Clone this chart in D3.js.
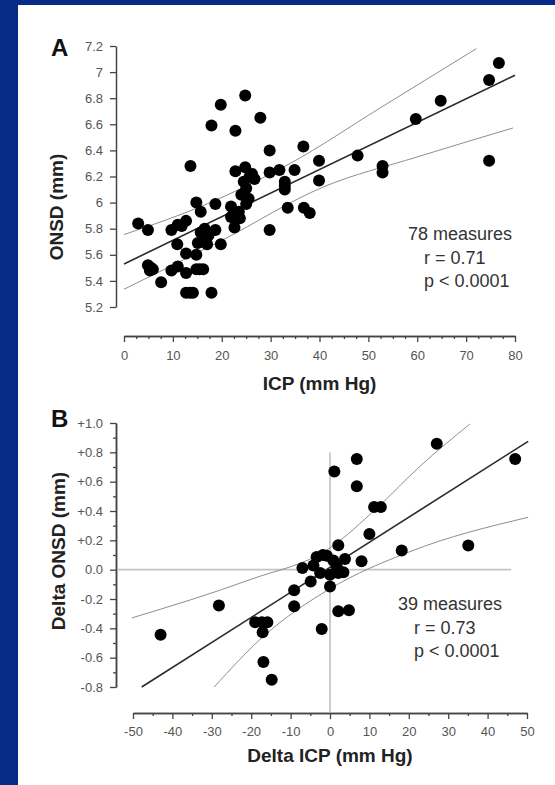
<!DOCTYPE html>
<html>
<head>
<meta charset="utf-8">
<script src="https://cdn.jsdelivr.net/npm/d3@7"></script>
<style>
  html, body { margin: 0; padding: 0; background: #ffffff; }
  svg { display: block; }
  text { font-family: "Liberation Sans", Arial, sans-serif; }
</style>
</head>
<body>
<svg id="chart" width="555" height="785"></svg>
<script>
(function (d3) {
  "use strict";

  // ---- panel A : ICP vs ONSD (78 measures) ----
  var icpA = [19.8, 24.8, 27.9, 17.9, 22.8, 29.8, 36.7, 13.6, 39.9, 39.9,
    22.8, 24.8, 25.7, 26.7, 29.8, 31.8, 34.9, 32.9, 32.9, 24.0,
    25.0, 25.0, 21.9, 33.5, 36.8, 38.0, 14.8, 15.7, 18.7, 21.9,
    23.7, 22.6, 29.8, 2.9, 4.9, 9.7, 11.0, 12.7, 10.9, 15.7,
    17.3, 18.7, 15.1, 16.8, 19.8, 12.7, 14.8, 4.9, 5.3, 5.9,
    9.7, 11.0, 12.7, 14.8, 16.2, 7.6, 12.7, 14.1, 17.9, 76.7,
    74.7, 64.8, 59.7, 47.8, 52.9, 52.9, 74.7, 24.5, 25.5, 23.5,
    16.5, 17.0, 13.5, 5.5, 15.5, 11.8, 32.9, 26.2];
  var onsdA = [6.75, 6.82, 6.65, 6.59, 6.55, 6.40, 6.43, 6.28, 6.32, 6.17,
    6.24, 6.27, 6.20, 6.18, 6.23, 6.25, 6.25, 6.16, 6.10, 6.06,
    6.11, 5.99, 5.97, 5.96, 5.96, 5.92, 6.00, 5.93, 5.99, 5.89,
    5.88, 5.81, 5.79, 5.84, 5.79, 5.79, 5.83, 5.86, 5.68, 5.77,
    5.75, 5.79, 5.69, 5.71, 5.68, 5.61, 5.60, 5.52, 5.48, 5.49,
    5.48, 5.51, 5.46, 5.49, 5.49, 5.39, 5.31, 5.31, 5.31, 7.07,
    6.94, 6.78, 6.64, 6.36, 6.28, 6.23, 6.32, 6.16, 6.03, 5.93,
    5.80, 5.68, 5.31, 5.50, 5.49, 5.82, 6.13, 6.22];

  // regression line and 95% band
  var fitA_x = [0, 80];
  var fitA_y = [5.53, 6.976];
  var upperA_x = [0, 17, 34, 52.4, 72.1];
  var upperA_y = [5.755, 5.99, 6.30, 6.725, 7.18];
  var lowerA_x = [0, 20, 40.8, 60, 79.6];
  var lowerA_y = [5.336, 5.71, 6.12, 6.35, 6.572];

  var xTicksA = [0, 10, 20, 30, 40, 50, 60, 70, 80];
  var xTickLabelsA = ["0", "10", "20", "30", "40", "50", "60", "70", "80"];
  var yTicksA = [5.2, 5.4, 5.6, 5.8, 6, 6.2, 6.4, 6.6, 6.8, 7, 7.2];
  var yTickLabelsA = ["5.2", "5.4", "5.6", "5.8", "6", "6.2", "6.4", "6.6", "6.8", "7", "7.2"];
  var statsA = ["78 measures", "r = 0.71", "p < 0.0001"];

  // ---- panel B : delta ICP vs delta ONSD (39 measures) ----
  var deltaIcpB = [6.8, 1.1, 6.8, 11.2, 12.9, 10.0, 18.2, 2.1, 3.8, 8.0,
    -3.4, -0.8, 0.85, -4.2, 1.7, -2.5, 0.0, 2.1, 3.4, -7.0,
    -4.9, 0.0, -9.1, -9.1, 2.1, 4.8, -2.1, -19.0, -17.3, -15.9,
    -17.1, -43.0, -28.2, -16.9, -14.8, 27.1, 47.0, 35.1, -1.8];
  var deltaOnsdB = [0.755, 0.67, 0.568, 0.427, 0.427, 0.243, 0.13, 0.166, 0.073, 0.057,
    0.087, 0.095, 0.063, 0.029, 0.022, -0.022, -0.034, -0.022, -0.018, 0.012,
    -0.08, -0.114, -0.141, -0.25, -0.284, -0.277, -0.404, -0.359, -0.359, -0.359,
    -0.427, -0.443, -0.245, -0.63, -0.75, 0.859, 0.755, 0.164, 0.10];

  var fitB_x = [-47.8, 50.3];
  var fitB_y = [-0.8, 0.875];
  var upperB_x = [-50.3, -20.3, 0, 11.9, 22.8, 35.5];
  var upperB_y = [-0.329, -0.068, 0.148, 0.42, 0.704, 0.993];
  var lowerB_x = [-29.4, -16.9, 0, 20, 50.3];
  var lowerB_y = [-0.8, -0.455, -0.13, 0.12, 0.357];
  var zeroLineB_x = [-54, 46];
  var zeroLineB_y = [-0.975, 0.8];

  var xTicksB = [-50, -40, -30, -20, -10, 0, 10, 20, 30, 40, 50];
  var xTickLabelsB = ["-50", "-40", "-30", "-20", "-10", "0", "10", "20", "30", "40", "50"];
  var yTicksB = [-0.8, -0.6, -0.4, -0.2, 0, 0.2, 0.4, 0.6, 0.8, 1.0];
  var yTickLabelsB = ["-0.8", "-0.6", "-0.4", "-0.2", "0.0", "+0.2", "+0.4", "+0.6", "+0.8", "+1.0"];
  var statsB = ["39 measures", "r = 0.73", "p < 0.0001"];

  var svg = d3.select("#chart");

  // blue slide frame on top and left
  svg.append("rect").attr("width", 555).attr("height", 785).attr("fill", "#062b86");
  svg.append("rect").attr("x", 18).attr("y", 5).attr("width", 537).attr("height", 780).attr("fill", "#ffffff");

  function zip(xs, ys) {
    return xs.map(function (x, i) { return [x, ys[i]]; });
  }

  function labelFormat(ticks, labels) {
    return function (d) { return labels[ticks.indexOf(d)]; };
  }

  function styleAxis(g) {
    g.select(".domain").attr("stroke", "#444").attr("stroke-width", 1.5);
    g.selectAll(".tick line").attr("stroke", "#444").attr("stroke-width", 1.3);
    g.selectAll(".tick text").attr("fill", "#555").style("font-size", "13px");
  }

  // draws one panel; p keeps only the layout bits
  function drawPanel(p) {
    var x = d3.scaleLinear().domain(p.xDomain).range(p.xRange);
    var y = d3.scaleLinear().domain(p.yDomain).range(p.yRange);
    var g = svg.append("g");

    // minor ticks first so majors sit on top
    if (p.xMinor) {
      g.append("g").attr("transform", "translate(0," + p.xAxisY + ")")
        .call(d3.axisBottom(x).tickValues(p.xMinor).tickSize(3).tickSizeOuter(0).tickFormat(""))
        .call(styleAxis);
    }
    if (p.yMinor) {
      g.append("g").attr("transform", "translate(" + p.yAxisX + ",0)")
        .call(d3.axisLeft(y).tickValues(p.yMinor).tickSize(3).tickSizeOuter(0).tickFormat(""))
        .call(styleAxis);
    }

    g.append("g").attr("transform", "translate(0," + p.xAxisY + ")")
      .call(d3.axisBottom(x).tickValues(p.xTicks).tickSize(6).tickSizeOuter(0)
        .tickPadding(p.xPad).tickFormat(labelFormat(p.xTicks, p.xLabels)))
      .call(styleAxis);

    g.append("g").attr("transform", "translate(" + p.yAxisX + ",0)")
      .call(d3.axisLeft(y).tickValues(p.yTicks).tickSize(6).tickSizeOuter(0)
        .tickPadding(7).tickFormat(labelFormat(p.yTicks, p.yLabels)))
      .call(styleAxis);

    var line = d3.line()
      .x(function (d) { return x(d[0]); })
      .y(function (d) { return y(d[1]); });
    var curve = d3.line()
      .curve(d3.curveMonotoneX)
      .x(function (d) { return x(d[0]); })
      .y(function (d) { return y(d[1]); });

    if (p.zeroX) {
      // reference lines at zero
      g.append("path").datum([[p.zeroX[0], 0], [p.zeroX[1], 0]])
        .attr("d", line).attr("fill", "none").attr("stroke", "#c4c4c4").attr("stroke-width", 1.6);
      g.append("path").datum([[0, p.zeroY[0]], [0, p.zeroY[1]]])
        .attr("d", line).attr("fill", "none").attr("stroke", "#9a9a9a").attr("stroke-width", 1);
    }

    g.append("path").datum(p.upper).attr("d", curve)
      .attr("fill", "none").attr("stroke", "#8e8e8e").attr("stroke-width", 1);
    g.append("path").datum(p.lower).attr("d", curve)
      .attr("fill", "none").attr("stroke", "#8e8e8e").attr("stroke-width", 1);
    g.append("path").datum(p.fit).attr("d", line)
      .attr("fill", "none").attr("stroke", "#2a2a2a").attr("stroke-width", 1.6);

    g.selectAll("circle.pt")
      .data(p.points)
      .enter()
        .append("circle")
        .attr("class", "pt")
        .attr("cx", function (d) { return x(d[0]); })
        .attr("cy", function (d) { return y(d[1]); })
        .attr("r", 6)
        .attr("fill", "#000");

    // stats block
    g.append("g").selectAll("text")
      .data(p.stats)
      .enter()
        .append("text")
        .attr("x", function (d, i) { return i === 0 ? p.statsX : p.statsX + 16; })
        .attr("y", function (d, i) { return p.statsY + i * 23.5; })
        .attr("fill", "#333")
        .style("font-size", "18px")
        .text(function (d) { return d; });

    // titles
    g.append("text")
      .attr("x", (p.xRange[0] + p.xRange[1]) / 2)
      .attr("y", p.xTitleY)
      .attr("text-anchor", "middle")
      .attr("fill", "#222")
      .style("font-size", "19px").style("font-weight", "bold")
      .text(p.xTitle);
    g.append("text")
      .attr("transform", "translate(" + p.yTitleX + "," + p.yTitleMid + ") rotate(-90)")
      .attr("text-anchor", "middle")
      .attr("fill", "#222")
      .style("font-size", "19px").style("font-weight", "bold")
      .text(p.yTitle);
    g.append("text")
      .attr("x", 51).attr("y", p.letterY)
      .attr("fill", "#111")
      .style("font-size", "24px").style("font-weight", "bold")
      .text(p.letter);
  }

  drawPanel({
    letter: "A", letterY: 56,
    xDomain: [0, 80], xRange: [124, 515],
    yDomain: [5.2, 7.2], yRange: [307, 46],
    xAxisY: 336, yAxisX: 116, xPad: 9,
    xTicks: xTicksA, xLabels: xTickLabelsA,
    yTicks: yTicksA, yLabels: yTickLabelsA,
    xMinor: d3.range(0, 80.01, 2.5).filter(function (v) { return v % 10 !== 0; }),
    points: zip(icpA, onsdA),
    fit: zip(fitA_x, fitA_y),
    upper: zip(upperA_x, upperA_y),
    lower: zip(lowerA_x, lowerA_y),
    stats: statsA, statsX: 408, statsY: 240,
    xTitle: "ICP (mm Hg)", xTitleY: 390,
    yTitle: "ONSD (mm)", yTitleX: 63, yTitleMid: 207
  });

  drawPanel({
    letter: "B", letterY: 427,
    xDomain: [-50, 50], xRange: [133, 527],
    yDomain: [-0.8, 1.0], yRange: [687, 423],
    xAxisY: 713, yAxisX: 116, xPad: 8,
    xTicks: xTicksB, xLabels: xTickLabelsB,
    yTicks: yTicksB, yLabels: yTickLabelsB,
    xMinor: d3.range(-45, 50, 10),
    yMinor: d3.range(-0.7, 1.0, 0.2),
    points: zip(deltaIcpB, deltaOnsdB),
    fit: zip(fitB_x, fitB_y),
    upper: zip(upperB_x, upperB_y),
    lower: zip(lowerB_x, lowerB_y),
    zeroX: zeroLineB_x, zeroY: zeroLineB_y,
    stats: statsB, statsX: 398, statsY: 610,
    xTitle: "Delta ICP (mm Hg)", xTitleY: 762,
    yTitle: "Delta ONSD (mm)", yTitleX: 65, yTitleMid: 551
  });
}(d3));
</script>
</body>
</html>
